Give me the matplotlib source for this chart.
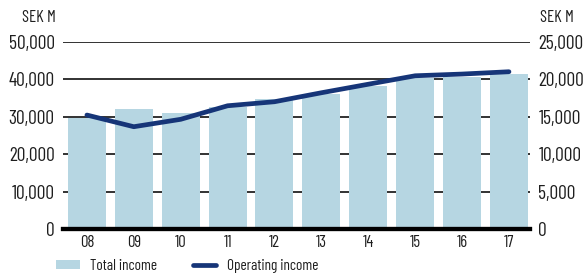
import matplotlib.pyplot as plt
from matplotlib.lines import Line2D
from matplotlib.patches import Patch

years = ["08", "09", "10", "11", "12", "13", "14", "15", "16", "17"]
total_income = [29600, 32100, 31000, 32600, 34700, 36100, 38300, 40300, 40600, 41400]
operating_income = [15240, 13680, 14670, 16480, 17020, 18220, 19360, 20490, 20720, 21030]
left_ticks = [0, 10000, 20000, 30000, 40000, 50000]
right_ticks = [0, 5000, 10000, 15000, 20000, 25000]

bar_color = '#b6d6e2'
line_color = '#163578'
text_color = '#1e1e1e'

plt.rcParams['font.family'] = ['Barlow Condensed', 'DejaVu Sans']

fig = plt.figure(figsize=(5.87, 2.73), dpi=100)
ax = fig.add_axes([0.1073, 0.161, 0.7957, 0.685])
ax2 = ax.twinx()

x = list(range(len(years)))
ax.bar(x, total_income, width=0.81, color=bar_color, zorder=2)
ax.set_axisbelow(True)
ax.set_ylim(0, 50000)
ax.set_yticks(left_ticks)
ax.set_yticklabels([f"{v:,}" for v in left_ticks], fontsize=14)
ax.yaxis.grid(True, color='#222222', linewidth=1.3, zorder=0)
ax.set_xlim(-0.51, 9.45)
ax.set_xticks(x)
ax.set_xticklabels(years, fontsize=12)

ax2.plot(x, operating_income, color=line_color, linewidth=3.4, solid_capstyle='round')
ax2.set_ylim(0, 25000)
ax2.set_yticks(right_ticks)
ax2.set_yticklabels([f"{v:,}" for v in right_ticks], fontsize=14)

for a in (ax, ax2):
    for side in ('top', 'left', 'right'):
        a.spines[side].set_visible(False)
    a.spines['bottom'].set_linewidth(3)
    a.spines['bottom'].set_color('black')
    a.tick_params(axis='both', length=0, colors=text_color)
ax.tick_params(axis='y', pad=6)
ax2.tick_params(axis='y', pad=6)
ax.tick_params(axis='x', pad=4)

fig.text(0.037, 0.935, "SEK M", fontsize=12, color=text_color, va='center', ha='left')
fig.text(0.92, 0.935, "SEK M", fontsize=12, color=text_color, va='center', ha='left')

handles = [Patch(facecolor=bar_color, edgecolor='none'),
           Line2D([0], [0], color=line_color, linewidth=3.4, solid_capstyle='round')]
leg = fig.legend(handles, ["Total income", "Operating income"], loc='center left',
                 bbox_to_anchor=(0.0954, 0.026), ncol=2, frameon=False, fontsize=11,
                 handlelength=1.55, handleheight=0.6, columnspacing=2.3, handletextpad=0.7,
                 borderpad=0, borderaxespad=0)
for t in leg.get_texts():
    t.set_color(text_color)

fig.savefig('out.png', dpi=100)
